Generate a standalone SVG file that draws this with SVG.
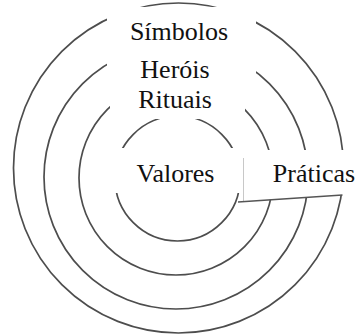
<svg xmlns="http://www.w3.org/2000/svg" width="358" height="335" viewBox="0 0 358 335">
  <style>
    .ring { fill: none; stroke: #4d4d4d; stroke-width: 1.7; }
    .mask { fill: #ffffff; stroke: none; }
    .lbl { font-family: "Times New Roman", Tinos, "Liberation Serif", "DejaVu Serif", serif; font-size: 26px; fill: #111111; text-anchor: middle; }
    .sep { stroke: #c8c8c8; stroke-width: 1; fill: none; }
    .bar { stroke: #555555; stroke-width: 1.7; fill: none; }
  </style>
  <rect width="358" height="335" fill="#ffffff"/>
  <g id="rings">
    <circle id="ring-simbolos" class="ring" cx="178.5" cy="168" r="165"/>
    <circle id="ring-herois" class="ring" cx="176" cy="177" r="132"/>
    <circle id="ring-rituais" class="ring" cx="176" cy="178" r="97"/>
    <circle id="ring-valores" class="ring" cx="177.5" cy="178.5" r="62.5"/>
  </g>
  <g id="masks">
    <rect class="mask" x="107" y="7" width="149" height="90"/>
    <rect class="mask" x="110" y="96" width="135" height="23"/>
    <rect class="mask" x="108" y="148" width="136" height="45"/>
    <polygon class="mask" points="243,150 358,150 358,194 240,201.5 243,201.5"/>
  </g>
  <g id="connectors">
    <line class="sep" x1="243.5" y1="158" x2="243.5" y2="201"/>
    <line class="bar" x1="238" y1="202" x2="342.5" y2="195"/>
  </g>
  <g id="labels">
    <g id="simbolos"><text class="lbl" x="179" y="40">Símbolos</text></g>
    <g id="herois"><text class="lbl" x="175" y="78">Heróis</text></g>
    <g id="rituais"><text class="lbl" x="175" y="108">Rituais</text></g>
    <g id="valores"><text class="lbl" x="175.5" y="182">Valores</text></g>
    <g id="praticas"><text class="lbl" x="314" y="182">Práticas</text></g>
  </g>
</svg>
